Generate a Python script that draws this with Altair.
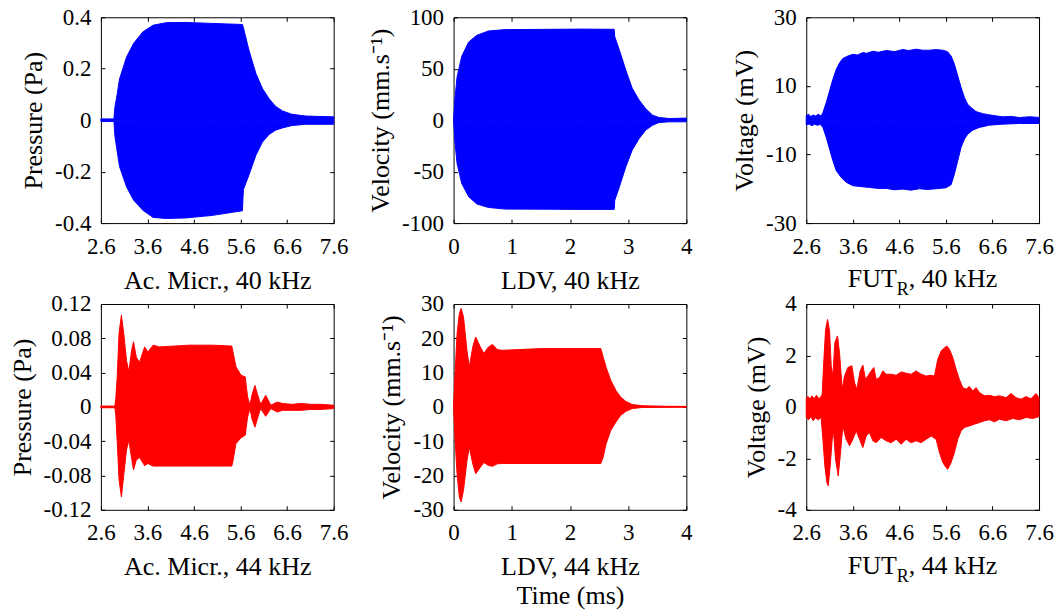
import altair as alt
import pandas as pd

# ---------------- data: envelopes ----------------
x_ticks_time = [2.6, 3.6, 4.6, 5.6, 6.6, 7.6]
x_ticks_ldv = [0, 1, 2, 3, 4]

# Ac. Micr., 40 kHz (Pa)
mic40_t = [2.6, 2.88, 2.9, 2.94, 3.0, 3.15, 3.3, 3.5, 3.72, 4.0, 4.43, 5.0, 5.64, 5.66,
           5.78, 5.93, 6.07, 6.21, 6.35, 6.5, 6.7, 7.0, 7.6]
mic40_up = [0.005, 0.005, 0.05, 0.09, 0.16, 0.245, 0.298, 0.343, 0.369, 0.379, 0.38,
            0.376, 0.372, 0.36, 0.272, 0.181, 0.123, 0.084, 0.054, 0.036, 0.023, 0.016,
            0.013]
mic40_lo = [-0.005, -0.005, -0.06, -0.11, -0.18, -0.259, -0.31, -0.35, -0.378, -0.382,
            -0.38, -0.37, -0.352, -0.27, -0.213, -0.136, -0.085, -0.056, -0.039, -0.03,
            -0.021, -0.016, -0.016]

# LDV, 40 kHz (mm/s)
ldv40_t = [0, 0.02, 0.06, 0.14, 0.26, 0.4, 0.6, 0.89, 1.64, 2.2, 2.76, 2.77, 2.85, 2.96,
           3.07, 3.19, 3.3, 3.42, 3.53, 3.71, 4.0]
ldv40_up = [0, 19, 42, 62, 76, 82.5, 86.7, 88, 88.3, 88.5, 88.3, 81, 68, 48.5, 31, 19.4,
            11.3, 4.9, 2.6, 1.6, 2.0]
ldv40_lo = [0, -19, -42, -61.5, -74.4, -81.5, -84.8, -86.4, -86.5, -86.7, -86.7, -77.7,
            -64.7, -45.3, -29, -17.8, -9.7, -4.9, -2.3, -1.6, -1.6]

# FUT_R, 40 kHz (mV): upper and lower envelopes on their own time grids
fut40_up_t = [2.6, 2.65, 2.7, 2.75, 2.8, 2.86, 2.92, 2.958, 3.029, 3.101, 3.172, 3.244,
              3.315, 3.387, 3.494, 3.601, 3.7, 3.816, 3.9, 4.031, 4.15, 4.317, 4.5,
              4.674, 4.8, 4.961, 5.1, 5.247, 5.4, 5.569, 5.64, 5.712, 5.783, 5.855,
              5.926, 5.998, 6.069, 6.141, 6.248, 6.391, 6.534, 6.7, 6.82, 7.0, 7.178,
              7.4, 7.6]
fut40_up = [1.3, 1.7, 1.1, 1.5, 1.2, 1.7, 1.2, 2.2, 5.1, 8.5, 11.9, 14.8, 16.7, 18.0,
            18.7, 19.2, 19.0, 19.7, 19.5, 20.1, 19.8, 20.3, 20.0, 20.6, 20.3, 20.7, 20.4,
            20.4, 20.6, 20.3, 19.9, 18.7, 16.3, 12.9, 9.5, 6.6, 4.6, 3.7, 2.5, 1.9, 1.55,
            1.2, 0.97, 1.1, 0.77, 1.0, 0.8]
fut40_lo_t = [2.6, 2.66, 2.72, 2.78, 2.84, 2.9, 2.958, 3.029, 3.101, 3.172, 3.244, 3.351,
              3.458, 3.601, 3.8, 3.959, 4.15, 4.317, 4.5, 4.674, 4.85, 5.032, 5.2, 5.39,
              5.604, 5.712, 5.783, 5.855, 5.926, 5.998, 6.069, 6.177, 6.32, 6.534, 6.82,
              7.178, 7.6]
fut40_lo = [-1.4, -1.1, -1.6, -1.2, -1.5, -1.2, -2.1, -5.0, -8.4, -11.8, -14.7, -16.7,
            -18.1, -19.1, -19.4, -19.6, -19.9, -19.9, -20.3, -20.1, -20.4, -20.0, -20.2,
            -20.0, -19.7, -18.8, -15.7, -11.8, -7.9, -5.5, -4.1, -2.9, -2.1, -1.45,
            -1.16, -0.97, -0.97]

# Ac. Micr., 44 kHz (Pa)
mic44_t = [2.6, 2.9, 2.92, 2.95, 2.99, 3.04, 3.09, 3.15, 3.2, 3.26, 3.3, 3.36, 3.43, 3.54,
           3.61, 3.72, 3.86, 4.5, 5.0, 5.41, 5.43, 5.5, 5.61, 5.7, 5.75, 5.8, 5.85, 5.91,
           5.96, 6.03, 6.14, 6.25, 6.39, 6.5, 6.7, 6.9, 7.1, 7.3, 7.6]
mic44_up = [0.001, 0.001, 0.01, 0.035, 0.086, 0.107, 0.086, 0.054, 0.041, 0.066, 0.076,
            0.058, 0.052, 0.070, 0.064, 0.072, 0.070, 0.072, 0.072, 0.071, 0.066, 0.047,
            0.037, 0.035, 0.012, 0.002, 0.015, 0.025, 0.015, 0.003, 0.0135, 0.002, 0.0056,
            0.004, 0.003, 0.004, 0.003, 0.003, 0.002]
mic44_lo = [-0.001, -0.001, -0.01, -0.04, -0.085, -0.105, -0.08, -0.05, -0.039, -0.06,
            -0.0735, -0.062, -0.059, -0.0685, -0.066, -0.069, -0.069, -0.069, -0.069,
            -0.069, -0.065, -0.043, -0.036, -0.033, -0.012, -0.002, -0.015, -0.0236,
            -0.014, -0.002, -0.011, -0.002, -0.006, -0.004, -0.004, -0.004, -0.003,
            -0.003, -0.002]

# LDV, 44 kHz (mm/s)
ldv44_t = [0, 0.02, 0.06, 0.1, 0.13, 0.17, 0.23, 0.27, 0.33, 0.38, 0.46, 0.52, 0.6, 0.67,
           0.75, 0.83, 1.5, 2.0, 2.53, 2.57, 2.62, 2.7, 2.79, 2.87, 2.96, 3.07, 3.25, 3.6,
           4.0]
ldv44_up = [0, 7.8, 21.4, 27.3, 28.7, 26.3, 16.5, 11.6, 17.5, 20.4, 17.5, 15.6, 17.5,
            18.2, 16.7, 16.5, 17.0, 17.0, 17.0, 14.6, 11.6, 7.8, 4.8, 2.9, 1.6, 0.7, 0.35,
            0.2, 0.15]
ldv44_lo = [0, -7.8, -19.5, -26.4, -27.7, -24.4, -15.7, -11.8, -16.6, -19.5, -17.6,
            -16.2, -17.1, -17.3, -16.6, -16.5, -16.5, -16.5, -16.5, -14.7, -10.8, -6.9,
            -4.4, -2.5, -1.3, -0.5, -0.15, -0.1, -0.05]

# FUT_R, 44 kHz (mV): upper and lower envelopes on their own time grids
fut44_up_t = [2.6, 2.64, 2.68, 2.72, 2.77, 2.82, 2.87, 2.92, 2.943, 2.972, 3.015, 3.058,
              3.101, 3.136, 3.172, 3.215, 3.272, 3.315, 3.373, 3.423, 3.494, 3.58, 3.637,
              3.687, 3.759, 3.816, 3.873, 3.923, 3.995, 4.052, 4.102, 4.174, 4.245,
              4.317, 4.424, 4.531, 4.639, 4.746, 4.853, 4.961, 5.068, 5.175, 5.282,
              5.354, 5.425, 5.497, 5.569, 5.619, 5.676, 5.747, 5.819, 5.89, 5.962,
              6.033, 6.105, 6.177, 6.248, 6.32, 6.427, 6.534, 6.642, 6.749, 6.892,
              6.999, 7.106, 7.214, 7.321, 7.428, 7.535, 7.6]
fut44_up = [0.35, 0.4, 0.3, 0.43, 0.33, 0.45, 0.32, 0.4, 0.5, 1.6, 3.0, 3.4, 2.95, 1.6,
            1.2, 2.5, 2.76, 2.1, 0.69, 1.2, 1.53, 1.6, 0.94, 0.69, 1.4, 1.62, 1.07, 1.2,
            1.4, 1.53, 1.07, 1.14, 1.4, 1.27, 1.27, 1.23, 1.36, 1.31, 1.27, 1.4, 1.27,
            1.2, 1.23, 1.2, 1.85, 2.17, 2.3, 2.37, 2.24, 1.92, 1.46, 1.07, 0.75, 0.69,
            0.79, 0.62, 0.75, 0.56, 0.43, 0.45, 0.4, 0.43, 0.36, 0.52, 0.36, 0.3, 0.4,
            0.32, 0.52, 0.36]
fut44_lo_t = [2.6, 2.65, 2.7, 2.75, 2.8, 2.86, 2.92, 2.958, 3.0, 3.043, 3.072, 3.115,
              3.158, 3.187, 3.229, 3.287, 3.33, 3.387, 3.458, 3.53, 3.601, 3.673, 3.744,
              3.816, 3.888, 3.959, 4.031, 4.102, 4.209, 4.317, 4.424, 4.531, 4.639,
              4.746, 4.853, 4.961, 5.068, 5.175, 5.282, 5.39, 5.461, 5.533, 5.604, 5.64,
              5.712, 5.783, 5.855, 5.926, 5.998, 6.105, 6.212, 6.32, 6.427, 6.534, 6.642,
              6.749, 6.892, 7.035, 7.178, 7.321, 7.464, 7.6]
fut44_lo = [-0.41, -0.5, -0.38, -0.54, -0.42, -0.5, -0.41, -1.26, -2.29, -2.94, -3.07,
            -2.29, -1.26, -0.93, -2.03, -2.68, -1.9, -0.74, -1.26, -1.51, -1.26, -0.93,
            -1.26, -1.58, -1.13, -1.0, -1.32, -1.39, -1.19, -1.32, -1.39, -1.26, -1.45,
            -1.26, -1.39, -1.32, -1.39, -1.26, -1.13, -1.26, -1.77, -2.16, -2.36, -2.42,
            -2.16, -1.77, -1.26, -0.93, -0.8, -0.74, -0.67, -0.61, -0.54, -0.5, -0.58,
            -0.48, -0.54, -0.45, -0.5, -0.41, -0.45, -0.38]

# ---------------- styling ----------------
BLUE = "#0000ff"
RED = "#ff0000"
FONT = "Liberation Serif"
LABEL_SIZE = 23
TITLE_SIZE = 26
TICK = 4
W, H = 233, 206
LABEL_EXPR = ("datum.value < 0 ? '-' + format(-datum.value, '~g') "
              ": format(datum.value, '~g')")


def panel(up_t, up, lo_t, lo, color, xdom, xticks, ydom, yticks, xtitle, ytitle,
          fut_khz=None):
    df_up = pd.DataFrame({"t": up_t, "v": up})
    df_lo = pd.DataFrame({"t": lo_t, "v": lo})
    xs = alt.Scale(domain=xdom, nice=False, zero=False)
    ys = alt.Scale(domain=ydom, nice=False, zero=False)

    x_main = alt.X("t:Q", scale=xs,
                   axis=alt.Axis(orient="bottom", values=xticks, offset=-TICK,
                                 tickSize=TICK, labelPadding=12, labelExpr=LABEL_EXPR,
                                 title=xtitle if xtitle else None, titlePadding=9,
                                 titleLineHeight=29))
    y_main = alt.Y("v:Q", scale=ys,
                   axis=alt.Axis(orient="left", values=yticks, offset=-TICK,
                                 tickSize=TICK, labelPadding=10, labelExpr=LABEL_EXPR,
                                 title=ytitle, titlePadding=8))
    upper = alt.Chart(df_up).mark_area(color=color, stroke=color, strokeWidth=1,
                                       interpolate="linear").encode(
        x=x_main, y=y_main, y2=alt.datum(0))
    lower = alt.Chart(df_lo).mark_area(color=color, stroke=color, strokeWidth=1,
                                       interpolate="linear").encode(
        x=alt.X("t:Q", scale=xs, axis=None),
        y=alt.Y("v:Q", scale=ys, axis=None),
        y2=alt.datum(0))
    opp = alt.Chart(df_up).mark_area(opacity=0).encode(
        x=alt.X("t:Q", scale=xs,
                axis=alt.Axis(orient="top", values=xticks, offset=-TICK,
                              tickSize=TICK, labels=False, title=None)),
        y=alt.Y("v:Q", scale=ys,
                axis=alt.Axis(orient="right", values=yticks, offset=-TICK,
                              tickSize=TICK, labels=False, title=None)),
        y2=alt.datum(0),
    )
    layers = [upper, lower, opp]
    if fut_khz is not None:
        one = pd.DataFrame({"k": [0]})
        start = W / 2 - 75
        yb = H + 64
        layers.append(alt.Chart(one).mark_text(
            text="FUT", font=FONT, fontSize=TITLE_SIZE, align="left",
            baseline="alphabetic", color="black").encode(
            x=alt.value(start), y=alt.value(yb)))
        layers.append(alt.Chart(one).mark_text(
            text="R", font=FONT, fontSize=18, align="left",
            baseline="alphabetic", color="black").encode(
            x=alt.value(start + 49), y=alt.value(yb + 8)))
        layers.append(alt.Chart(one).mark_text(
            text=f", {fut_khz} kHz", font=FONT, fontSize=TITLE_SIZE, align="left",
            baseline="alphabetic", color="black").encode(
            x=alt.value(start + 61), y=alt.value(yb)))
    return alt.layer(*layers).resolve_axis(x="independent", y="independent").properties(
        width=W, height=H)


p1 = panel(mic40_t, mic40_up, mic40_t, mic40_lo, BLUE, [2.6, 7.6], x_ticks_time,
           [-0.4, 0.4], [-0.4, -0.2, 0, 0.2, 0.4], "Ac. Micr., 40 kHz", "Pressure (Pa)")
p2 = panel(ldv40_t, ldv40_up, ldv40_t, ldv40_lo, BLUE, [0, 4], x_ticks_ldv, [-100, 100],
           [-100, -50, 0, 50, 100], "LDV, 40 kHz", "Velocity (mm.s\u207b\u00b9)")
p3 = panel(fut40_up_t, fut40_up, fut40_lo_t, fut40_lo, BLUE, [2.6, 7.6], x_ticks_time,
           [-30, 30], [-30, -10, 10, 30], None, "Voltage (mV)", fut_khz=40)
p4 = panel(mic44_t, mic44_up, mic44_t, mic44_lo, RED, [2.6, 7.6], x_ticks_time,
           [-0.12, 0.12], [-0.12, -0.08, -0.04, 0, 0.04, 0.08, 0.12],
           "Ac. Micr., 44 kHz", "Pressure (Pa)")
p5 = panel(ldv44_t, ldv44_up, ldv44_t, ldv44_lo, RED, [0, 4], x_ticks_ldv, [-30, 30],
           [-30, -20, -10, 0, 10, 20, 30], ["LDV, 44 kHz", "Time (ms)"],
           "Velocity (mm.s\u207b\u00b9)")
p6 = panel(fut44_up_t, fut44_up, fut44_lo_t, fut44_lo, RED, [2.6, 7.6], x_ticks_time,
           [-4, 4], [-4, -2, 0, 2, 4], None, "Voltage (mV)", fut_khz=44)

chart = alt.concat(p1, p2, p3, p4, p5, p6, columns=3,
                   spacing=alt.RowColnumber(row=81, column=120),
                   bounds="flush").properties(
    padding={"left": 8, "top": 5, "right": 5, "bottom": 5},
    background="white",
).configure_view(stroke="black", strokeWidth=1).configure_axis(
    domain=False, grid=False, tickColor="black", tickWidth=1,
    labelFont=FONT, labelFontSize=LABEL_SIZE, labelColor="black",
    labelFlush=False, labelOverlap=False, labelBound=False,
    titleFont=FONT, titleFontSize=TITLE_SIZE, titleFontWeight="normal",
    titleColor="black",
)

chart.save("out.html", embed_options={"renderer": "svg", "actions": False})
